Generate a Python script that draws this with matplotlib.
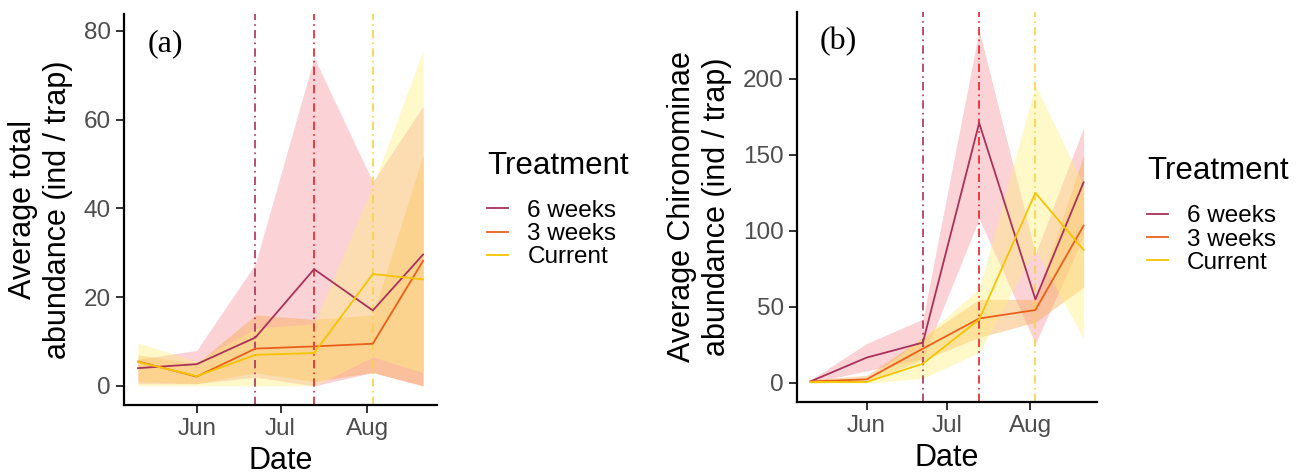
import numpy as np
import matplotlib
matplotlib.use("Agg")
import matplotlib.pyplot as plt
import matplotlib.dates as mdates

plt.rcParams['font.family'] = ['Liberation Sans', 'DejaVu Sans']

# sampling dates
dates = np.array(['2021-05-11', '2021-06-01', '2021-06-22', '2021-07-13',
                  '2021-08-03', '2021-08-21'], dtype='datetime64[D]')
# treatment start dates (vertical lines)
vline_dates = np.array(['2021-06-22', '2021-07-13', '2021-08-03'], dtype='datetime64[D]')
treatments = ['6 weeks', '3 weeks', 'Current']

# (a) total abundance
a_mean = {'6 weeks': [4.0, 4.9, 10.9, 26.3, 17.0, 29.6],
          '3 weeks': [5.5, 2.1, 8.4, 8.9, 9.5, 28.2],
          'Current': [5.4, 2.2, 7.0, 7.4, 25.2, 24.0]}
a_lo = {'6 weeks': [0.5, 0.5, 2.0, 0.0, 3.0, 0.0],
        '3 weeks': [1.0, 0.5, 3.0, 1.0, 3.0, 0.0],
        'Current': [0.0, 0.0, 0.0, 0.0, 6.5, 3.0]}
a_hi = {'6 weeks': [6.0, 8.0, 27.5, 74.0, 46.0, 63.0],
        '3 weeks': [7.0, 5.0, 16.0, 15.0, 16.0, 52.0],
        'Current': [9.7, 5.5, 13.0, 14.0, 45.0, 75.6]}

# (b) Chironominae abundance
b_mean = {'6 weeks': [1.0, 16.7, 26.6, 171.0, 55.0, 132.0],
          '3 weeks': [1.0, 2.4, 22.6, 42.4, 48.0, 103.5],
          'Current': [0.7, 0.7, 12.7, 41.8, 125.0, 87.5]}
b_lo = {'6 weeks': [0.0, 8.0, 16.0, 108.0, 26.0, 96.0],
        '3 weeks': [0.0, 1.0, 15.0, 30.0, 40.0, 63.0],
        'Current': [0.0, 0.0, 3.0, 20.0, 88.0, 29.0]}
b_hi = {'6 weeks': [2.0, 26.0, 42.0, 232.0, 85.0, 168.0],
        '3 weeks': [2.0, 5.0, 30.0, 55.0, 55.0, 150.0],
        'Current': [1.5, 2.0, 30.0, 62.0, 196.0, 130.0]}

line_cols = {'6 weeks': '#A8325A', '3 weeks': '#E8601C', 'Current': '#F5C400'}
fill_cols = {'6 weeks': '#F7909A', '3 weeks': '#F9A645', 'Current': '#FFEE7A'}
vline_cols = ['#A8325A', '#E8202A', '#F5D442']

fig = plt.figure(figsize=(12.97, 4.74), dpi=100)
ax1 = fig.add_axes([0.0956, 0.1456, 0.2414, 0.8249])
ax2 = fig.add_axes([0.6145, 0.1519, 0.2313, 0.8228])


def draw(ax, mean, lo, hi, ylab, tag, ylim, yticks, leg_anchor):
    for t in treatments:
        ax.fill_between(dates, lo[t], hi[t], color=fill_cols[t], alpha=0.4, lw=0)
    for d, c in zip(vline_dates, vline_cols):
        ax.axvline(d, color=c, lw=1.2, ls=(0, (5, 2.5, 1, 2.5)))
    for t in treatments:
        ax.plot(dates, mean[t], color=line_cols[t], lw=1.3, label=t)
    ax.set_ylim(*ylim)
    ax.set_yticks(yticks)
    ax.set_xlim(np.datetime64('2021-05-06'), np.datetime64('2021-08-26'))
    ax.set_xticks(np.array(['2021-06-01', '2021-07-01', '2021-08-01'], dtype='datetime64[D]'))
    ax.xaxis.set_major_formatter(mdates.DateFormatter('%b'))
    for s in ['top', 'right']:
        ax.spines[s].set_visible(False)
    for s in ['left', 'bottom']:
        ax.spines[s].set_linewidth(1.6)
    ax.tick_params(labelsize=17.5, labelcolor='#4D4D4D', length=6, width=1.4, color='#333333')
    ax.set_xlabel('Date', fontsize=22, labelpad=4)
    ax.set_ylabel(ylab, fontsize=22, labelpad=8, linespacing=1.2)
    ax.text(0.075, 0.925, tag, transform=ax.transAxes, fontsize=23,
            family='Liberation Serif', va='center')
    leg = ax.legend(loc='center left', bbox_to_anchor=leg_anchor, frameon=False,
                    title='Treatment', title_fontsize=22.5, fontsize=17.5,
                    handlelength=0.85, handletextpad=0.8, labelspacing=0.05,
                    borderpad=0, borderaxespad=0)
    leg._legend_box.align = 'left'
    leg._legend_box.sep = 14


draw(ax1, a_mean, a_lo, a_hi, 'Average total\nabundance (ind / trap)', '(a)',
     (-4.3, 83.8), [0, 20, 40, 60, 80], (1.16, 0.50))
draw(ax2, b_mean, b_lo, b_hi, 'Average Chironominae\nabundance (ind / trap)', '(b)',
     (-12.5, 244), [0, 50, 100, 150, 200], (1.167, 0.48))

fig.savefig('out.png', dpi=100)
